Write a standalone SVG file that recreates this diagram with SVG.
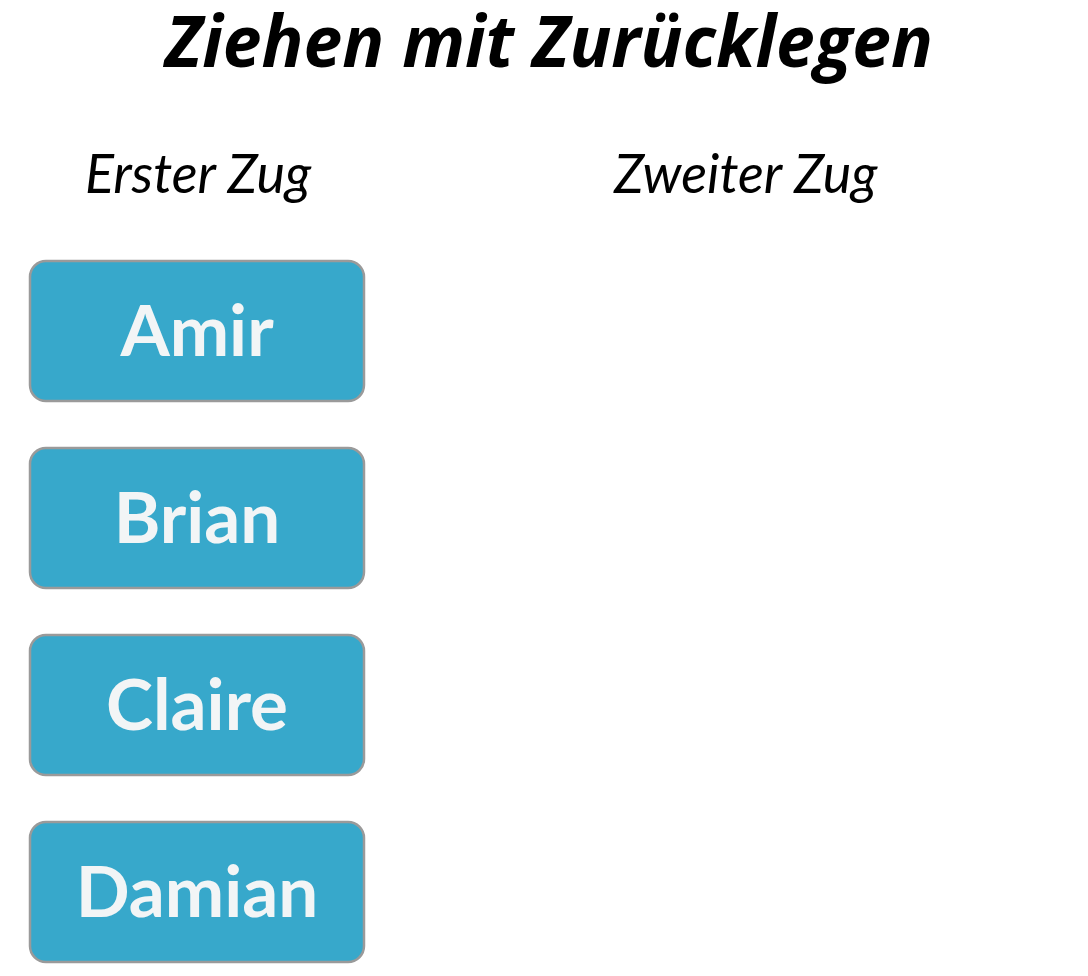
<svg xmlns="http://www.w3.org/2000/svg" width="1088" height="976" viewBox="0 0 1088 976">
<style>
.title{font-family:"Open Sans","Noto Sans",sans-serif;font-weight:700;font-style:italic;font-size:72px;fill:#000}
.head{font-family:Lato,"Liberation Sans",sans-serif;font-style:italic;font-size:54px;fill:#000}
.box{fill:#37A8CB;stroke:#9A9A9A;stroke-width:2.5}
.lbl{font-family:Lato,"Liberation Sans",sans-serif;font-weight:700;font-size:71px;fill:#F2F5F6;text-anchor:middle}
</style>
<rect width="1088" height="976" fill="#FFFFFF"/>
<text class="title" x="549" y="67" text-anchor="middle" textLength="768" lengthAdjust="spacingAndGlyphs">Ziehen mit Zurücklegen</text>
<text class="head" x="85" y="193">Erster Zug</text>
<text class="head" x="614" y="193">Zweiter Zug</text>
<g id="connectors"></g>
<g id="amir"><rect class="box" x="30" y="261" width="334" height="140" rx="16"/><text class="lbl" x="197" y="356">Amir</text></g>
<g id="brian"><rect class="box" x="30" y="448" width="334" height="140" rx="16"/><text class="lbl" x="197" y="543">Brian</text></g>
<g id="claire"><rect class="box" x="30" y="635" width="334" height="140" rx="16"/><text class="lbl" x="197" y="730">Claire</text></g>
<g id="damian"><rect class="box" x="30" y="822" width="334" height="140" rx="16"/><text class="lbl" x="197" y="917">Damian</text></g>
</svg>
